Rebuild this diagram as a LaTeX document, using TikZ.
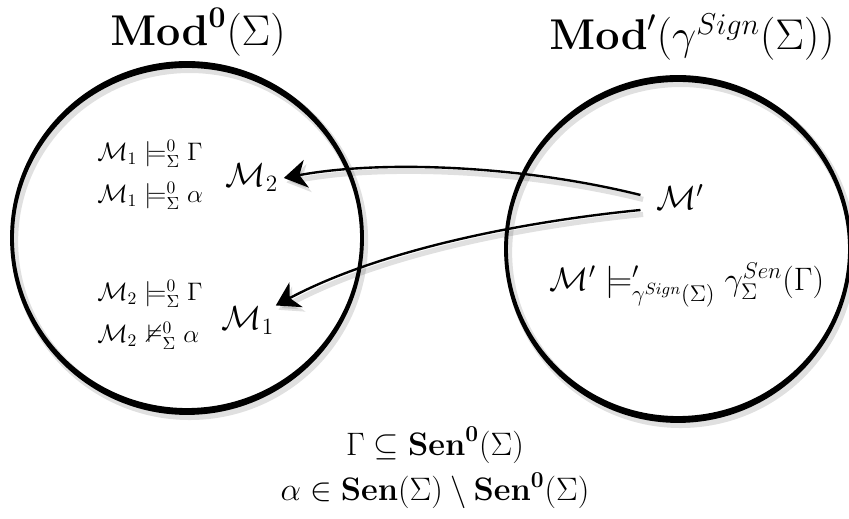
\documentclass[tikz,border=0pt]{standalone}
\usepackage{fix-cm}
\usepackage{amsmath, amssymb}
\usetikzlibrary{arrows.meta, calc}

\tikzset{
  setcircle/.style={line width=2.2pt, preaction={draw=black, opacity=0.12, line width=4pt, transform canvas={shift={(1.5pt,-2pt)}}}},
  modelarrow/.style={-{Stealth[length=13pt, width=16pt, inset=4pt]}, line width=1.35pt, preaction={draw=black, opacity=0.12, line width=3pt, transform canvas={shift={(1.5pt,-2.5pt)}}}},
  titlelabel/.style={font=\fontsize{24.5}{29}\selectfont},
  modellabel/.style={font=\fontsize{19}{23}\selectfont, inner sep=3pt},
  factlabel/.style={font=\fontsize{14.4}{18}\selectfont, align=left, anchor=west, inner sep=0pt},
  notelabel/.style={font=\fontsize{18.5}{22}\selectfont, align=center}
}

\begin{document}
\begin{tikzpicture}[x=0.02cm, y=-0.02cm]
  \useasboundingbox (0,0) rectangle (849,519);

  % the two classes of models
  \node[titlelabel] (titleL) at (198,32) {$\mathbf{Mod}^{\mathbf{0}}(\Sigma)$};
  \node[titlelabel] (titleR) at (692,37) {$\mathbf{Mod}'(\gamma^{Sign}(\Sigma))$};
  \draw[setcircle] (187,238) circle[radius=175] ellipse[x radius=175, y radius=172];
  \draw[setcircle] (678,249) circle[radius=172] ellipse[x radius=172, y radius=169];

  % models and what they satisfy
  \node[factlabel] (facts1) at (97,175) {$\mathcal{M}_1 \models^{0}_{\Sigma} \Gamma$\\[6pt]$\mathcal{M}_1 \models^{0}_{\Sigma} \alpha$};
  \node[factlabel] (facts2) at (97,315) {$\mathcal{M}_2 \models^{0}_{\Sigma} \Gamma$\\[6pt]$\mathcal{M}_2 \mkern2mu\nvDash^{0}_{\Sigma} \alpha$};
  \node[modellabel] (M2) at (252,178) {$\mathcal{M}_2$};
  \node[modellabel] (M1) at (248,321) {$\mathcal{M}_1$};
  \node[modellabel, outer sep=6pt] (Mp) at (680,197) {$\mathcal{M}'$};
  \node[notelabel] (factp) at (687,285) {$\mathcal{M}' \models'_{\gamma^{Sign}(\Sigma)} \gamma^{Sen}_{\Sigma}(\Gamma)$};

  \draw[modelarrow] ($(Mp.west)+(0,-2)$) .. controls (520,165) and (380,160) .. (M2.east);
  \draw[modelarrow] ($(Mp.west)+(0,13)$) .. controls (520,222) and (380,250) .. ($(M1.north east)+(-4,4)$);

  % sentences
  \node[notelabel] (sens) at (435,468) {$\Gamma \subseteq \mathbf{Sen}^{\mathbf{0}}(\Sigma)$\\[4pt]$\alpha \in \mathbf{Sen}(\Sigma) \setminus \mathbf{Sen}^{\mathbf{0}}(\Sigma)$};
\end{tikzpicture}
\end{document}
